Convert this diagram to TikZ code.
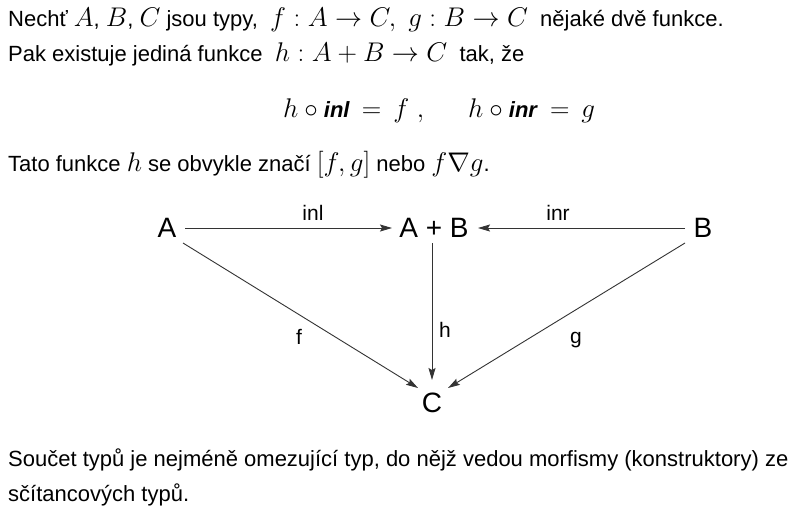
\documentclass[tikz,border=0pt]{standalone}
\usepackage{fix-cm}
\usepackage[no-math]{fontspec}
\setmainfont{Liberation Sans}
\usetikzlibrary{arrows.meta,calc}
\newcommand\mth[1]{{\fontsize{27}{30}\selectfont$#1$}}
\begin{document}
\begin{tikzpicture}[x=1pt,y=-1pt,
  txt/.style={anchor=base west, inner sep=0pt, font=\fontsize{22}{26}\selectfont},
  obj/.style={inner sep=0pt, font=\fontsize{28}{30}\selectfont},
  lbl/.style={inner sep=0pt, font=\fontsize{21}{25}\selectfont},
  arr/.style={draw=black!80, line width=0.9pt, -{Stealth[length=12pt,width=7pt,inset=2pt]}}]
\useasboundingbox[fill=white] (0,0) rectangle (792,512);
% text
\node[txt] (l1) at (8,26) {Nechť \mth{A}, \mth{B}, \mth{C} jsou typy,\ \ \mth{f : A\to C,\ g : B\to C}\ \ nějaké dvě funkce.};
\node[txt] (l2) at (8,61) {Pak existuje jediná funkce\ \ \mth{h : A+B\to C}\ \ tak, že};
\node[txt] (e1) at (283,117) {\mth{h\circ{}}\textbf{\textit{inl}}\mth{{}\mskip3mu=\mskip3mu f\;,}};
\node[txt] (e2) at (468,117) {\mth{h\circ{}}\textbf{\textit{inr}}\mth{{}\mskip3mu=\mskip3mu g}};
\node[txt] (l4) at (8,171) {Tato funkce \mth{h} se obvykle značí \mth{[f,g]} nebo \mth{f\nabla g}.};
\node[txt] (l5) at (8,466) {Součet typů je nejméně omezující typ, do nějž vedou morfismy (konstruktory) ze};
\node[txt] (l6) at (8,501) {sčítancových typů.};
% diagram
\node[obj] (A) at (167,228) {A};
\node[obj] (AB) at (434,228) {A + B};
\node[obj] (B) at (703,228) {B};
\node[obj] (C) at (432,403) {C};
\draw[arr] ($(A)+(18,0)$) -- ($(AB)+(-42,0)$);
\draw[arr] ($(B)+(-18,0)$) -- ($(AB)+(44,0)$);
\draw[arr] ($(A)+(16,15)$) -- ($(C)+(-14,-15)$);
\draw[arr] ($(AB)+(-2,15)$) -- ($(C)+(0,-23)$);
\draw[arr] ($(B)+(-18,15)$) -- ($(C)+(16,-15)$);
\node[lbl] (linl) at (313,213) {inl};
\node[lbl] (linr) at (558,213) {inr};
\node[lbl] (lf) at (299,337) {f};
\node[lbl] (lh) at (445,330) {h};
\node[lbl] (lg) at (576,340) {g};
\end{tikzpicture}
\end{document}
